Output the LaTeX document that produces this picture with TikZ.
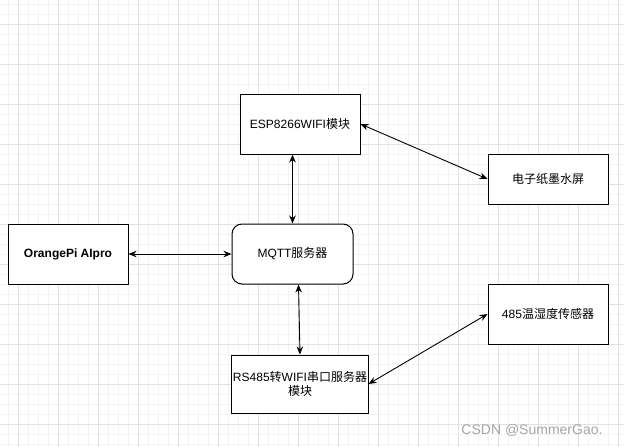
\documentclass[tikz,border=0pt]{standalone}
\usepackage{fontspec}
\setmainfont{Liberation Sans}
\newfontfamily\cjk{Noto Sans CJK SC}
\usetikzlibrary{arrows.meta}
\definecolor{gridminor}{HTML}{F4F4F4}
\definecolor{gridmajor}{HTML}{E2E2E2}
\definecolor{markgray}{HTML}{A6A6A6}
\begin{document}
\begin{tikzpicture}[x=1pt,y=-1pt,
  box/.style={draw,line width=1pt,minimum width=120pt,minimum height=60pt,
    inner sep=1pt,align=center,font=\fontsize{12}{14.5}\selectfont},
  link/.style={line width=0.9pt,{Stealth[length=8pt,width=6.5pt]}-{Stealth[length=8pt,width=6.5pt]}}]
\useasboundingbox (0,0) rectangle (624,447);
\fill[white] (0,0) rectangle (624,447);
% background grid
\foreach \gx in {8,18,...,618} \draw[gridminor,line width=0.8pt] (\gx,0) -- (\gx,447);
\foreach \gy in {4,14,...,444} \draw[gridminor,line width=0.8pt] (0,\gy) -- (624,\gy);
\foreach \gx in {18,58,...,618} \draw[gridmajor,line width=0.8pt] (\gx,0) -- (\gx,447);
\foreach \gy in {24,64,...,444} \draw[gridmajor,line width=0.8pt] (0,\gy) -- (624,\gy);
% blocks
\node[box,fill=white] (esp) at (300,124) {ESP8266WIFI{\cjk 模块}};
\node[box,fill=white,font=\fontsize{12}{14.5}\selectfont\bfseries] (orangepi) at (68,254) {OrangePi AIpro};
\node[box,fill=white,rounded corners=10pt,minimum width=121pt] (mqtt) at (292.5,254) {MQTT{\cjk 服务器}};
\node[box,fill=white,minimum width=136pt,minimum height=58pt] (rs485) at (300,384) {RS485{\cjk 转}WIFI{\cjk 串口服务器}\\{\cjk 模块}};
\node[box,fill=white,minimum height=50pt] (epaper) at (548,179) {\cjk 电子纸墨水屏};
\node[box,fill=white] (sensor) at (548,314) {485{\cjk 温湿度传感器}};
% links
\draw[link] (esp.south -| mqtt.north) -- (mqtt.north);
\draw[link] (esp.east) -- (epaper.west);
\draw[link] (orangepi.east) -- (mqtt.west);
\draw[link] ([xshift=6pt]mqtt.south) -- (rs485.north);
\draw[link] (rs485.east) -- (sensor.west);
% watermark
\node[text=markgray,font=\fontsize{14}{16}\selectfont] (mark) at (532,430) {CSDN @SummerGao.};
\end{tikzpicture}
\end{document}
